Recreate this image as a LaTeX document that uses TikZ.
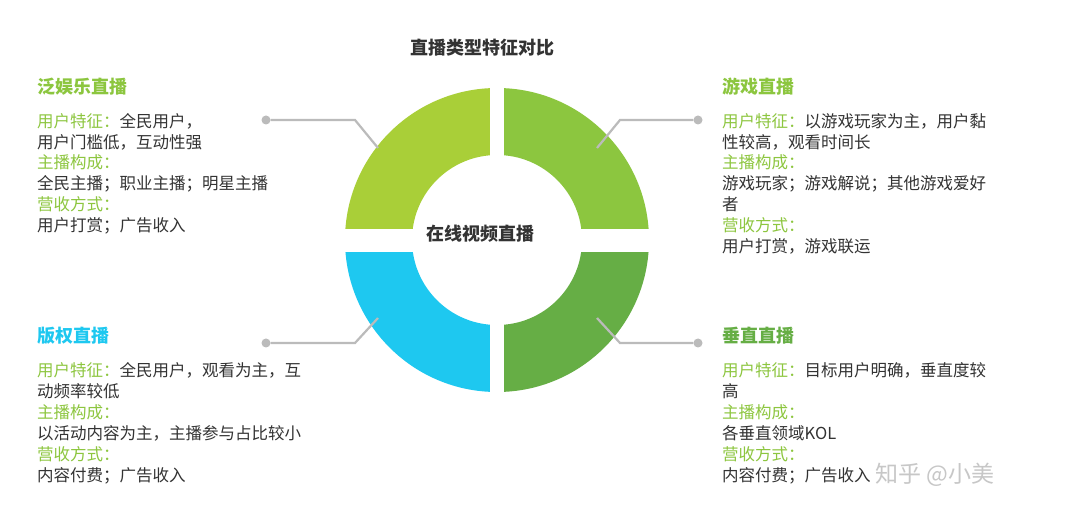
\documentclass[tikz,border=0pt]{standalone}
\usepackage{fontspec}
\setmainfont{Noto Sans CJK SC}
\definecolor{cA}{HTML}{A9CF38}
\definecolor{cB}{HTML}{8CC63F}
\definecolor{cC}{HTML}{66AE45}
\definecolor{cD}{HTML}{1EC8F0}
\definecolor{lab}{HTML}{8DC63F}
\definecolor{txt}{HTML}{333333}
\definecolor{conn}{HTML}{BBBBBB}
\begin{document}
\begin{tikzpicture}[x=1pt,y=-1pt,
  tl/.style={anchor=base west,font=\fontsize{16.5}{18}\selectfont,text=txt,inner sep=0},
  ttl/.style={anchor=base west,font=\fontsize{18}{20}\selectfont\bfseries,inner sep=0},
  conline/.style={draw=conn,line width=2.2pt},
  dot/.style={circle,fill=conn,inner sep=0,minimum size=9pt}]
\useasboundingbox (0,0) rectangle (1069,518);
\fill[white] (0,0) rectangle (1069,518);
\coordinate (c) at (497,240);
\fill[cA] (c) ++(180:152) arc[start angle=180,end angle=270,radius=152] -- ++(0,67) arc[start angle=270,end angle=180,radius=85] -- cycle;
\fill[cB] (c) ++(270:152) arc[start angle=270,end angle=360,radius=152] -- ++(-67,0) arc[start angle=360,end angle=270,radius=85] -- cycle;
\fill[cC] (c) ++(0:152) arc[start angle=0,end angle=90,radius=152] -- ++(0,-67) arc[start angle=90,end angle=0,radius=85] -- cycle;
\fill[cD] (c) ++(90:152) arc[start angle=90,end angle=180,radius=152] -- ++(67,0) arc[start angle=180,end angle=90,radius=85] -- cycle;
\fill[white] (490,80) rectangle (504,400);
\fill[white] (340,229) rectangle (660,252);
\node[font=\fontsize{18}{20}\selectfont\bfseries,text=txt] (center) at (480,234) {在线视频直播};
\node[font=\fontsize{18}{20}\selectfont\bfseries,text=txt] (title) at (482,48) {直播类型特征对比};
% connectors
\node[dot] (d1) at (266,120) {}; \coordinate (k1) at (355,120); \coordinate (e1) at (378,148);
\node[dot] (d2) at (698,120) {}; \coordinate (k2) at (620,120); \coordinate (e2) at (597,148);
\node[dot] (d3) at (266,343) {}; \coordinate (k3) at (355,343); \coordinate (e3) at (378,318);
\node[dot] (d4) at (698,343) {}; \coordinate (k4) at (620,343); \coordinate (e4) at (597,318);
\draw[conline] (d1) -- (k1) -- (e1);
\draw[conline] (d2) -- (k2) -- (e2);
\draw[conline] (d3) -- (k3) -- (e3);
\draw[conline] (d4) -- (k4) -- (e4);
% TL
\node[ttl,text=cB] (t1) at (37,94) {泛娱乐直播};
\node[tl] at (37,128) {\textcolor{lab}{用户特征：}全民用户，};
\node[tl] at (37,149) {用户门槛低，互动性强};
\node[tl] at (37,169) {\textcolor{lab}{主播构成：}};
\node[tl] at (37,190) {全民主播；职业主播；明星主播};
\node[tl] at (37,211) {\textcolor{lab}{营收方式：}};
\node[tl] at (37,232) {用户打赏；广告收入};
% TR
\node[ttl,text=cB] (t2) at (722,94) {游戏直播};
\node[tl] at (722,128) {\textcolor{lab}{用户特征：}以游戏玩家为主，用户黏};
\node[tl] at (722,149) {性较高，观看时间长};
\node[tl] at (722,169) {\textcolor{lab}{主播构成：}};
\node[tl] at (722,190) {游戏玩家；游戏解说；其他游戏爱好};
\node[tl] at (722,211) {者};
\node[tl] at (722,232) {\textcolor{lab}{营收方式：}};
\node[tl] at (722,253) {用户打赏，游戏联运};
% BL
\node[ttl,text=cD] (t3) at (37,343) {版权直播};
\node[tl] at (37,377) {\textcolor{lab}{用户特征：}全民用户，观看为主，互};
\node[tl] at (37,398) {动频率较低};
\node[tl] at (37,419) {\textcolor{lab}{主播构成：}};
\node[tl] at (37,440) {以活动内容为主，主播参与占比较小};
\node[tl] at (37,461) {\textcolor{lab}{营收方式：}};
\node[tl] at (37,482) {内容付费；广告收入};
% BR
\node[ttl,text=cC] (t4) at (722,343) {垂直直播};
\node[tl] at (722,377) {\textcolor{lab}{用户特征：}目标用户明确，垂直度较};
\node[tl] at (722,398) {高};
\node[tl] at (722,419) {\textcolor{lab}{主播构成：}};
\node[tl] at (722,440) {各垂直领域KOL};
\node[tl] at (722,461) {\textcolor{lab}{营收方式：}};
\node[tl] at (722,482) {内容付费；广告收入};
\node[anchor=base west,font=\fontsize{23}{26}\selectfont,text=black!22,inner sep=0] (wm) at (875,483) {知乎 @小美};
\end{tikzpicture}
\end{document}
